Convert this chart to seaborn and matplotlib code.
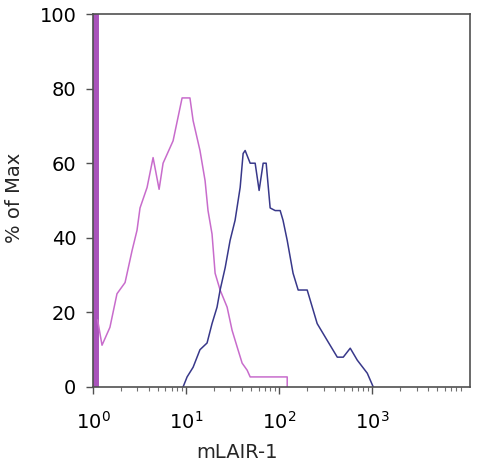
import numpy as np
import pandas as pd
import matplotlib
matplotlib.use("Agg")
import matplotlib.pyplot as plt
import seaborn as sns
from matplotlib.ticker import LogLocator, MultipleLocator

# valeurs (x en intensite, y en % du max)
spike_x = [1.06, 1.06]
spike_y = [0, 100]

iso_x = [1.12, 1.25, 1.52, 1.81, 2.21, 2.63, 2.97, 3.20, 3.81, 4.42, 5.13, 5.66,
         7.25, 9.06, 11.0, 11.9, 14.1, 16.0, 17.2, 19.0, 20.5, 23.2, 27.6, 31.2,
         35.4, 40.0, 45.3, 48.8, 122, 122]
iso_y = [18, 11.2, 16, 25, 28, 36.6, 42, 48, 53.5, 61.5, 53, 60,
         66, 77.5, 77.5, 71.4, 63.4, 55.3, 47.3, 41, 30.5, 26, 21.4, 15.2,
         10.7, 6.4, 4.5, 2.7, 2.7, 0]

lair_x = [9.28, 10.25, 11.9, 14.1, 16.8, 19.0, 21.5, 23.2, 26.3, 29.7, 33.6, 38.1,
          41.0, 43.1, 48.8, 55.2, 60.9, 67.3, 72.5, 80.0, 90.6, 102.5, 110, 122,
          141, 160, 200, 256, 328, 421, 488, 580, 690, 884, 1025]
lair_y = [0, 2.7, 5.3, 10, 11.8, 17, 21.4, 26, 32, 39.3, 44.7, 53.5,
          62.6, 63.4, 60, 60, 52.7, 60, 60, 48, 47.3, 47.3, 44.7, 39.3,
          30.5, 26, 26, 17, 12.5, 8, 8, 10.4, 7.2, 3.7, 0]

sns.set_style("ticks")
plt.rcParams["font.family"] = ["DejaVu Sans"]

fig = plt.figure(figsize=(4.8, 4.67), dpi=100)
ax = fig.add_axes([93 / 480, 1 - 387 / 467, 377 / 480, 373 / 467])

sns.lineplot(x=spike_x, y=spike_y, ax=ax, color="#a953bb", linewidth=5,
             sort=False, estimator=None)
sns.lineplot(x=iso_x, y=iso_y, ax=ax, color="#c86ccc", linewidth=1.1,
             sort=False, estimator=None)
sns.lineplot(x=lair_x, y=lair_y, ax=ax, color="#38388a", linewidth=1.1,
             sort=False, estimator=None)

ax.set_xscale("log")
ax.set_xlim(1, 10 ** 4.05)
ax.set_ylim(0, 100)
ax.set_xticks([1, 10, 100, 1000])
ax.xaxis.set_minor_locator(LogLocator(base=10, subs=np.arange(2, 10), numticks=20))
ax.set_yticks([0, 20, 40, 60, 80, 100])
ax.yaxis.set_minor_locator(MultipleLocator(5))

for s in ax.spines.values():
    s.set_visible(True)
    s.set_color("#505050")
    s.set_linewidth(1.2)

ax.tick_params(axis="both", which="major", labelsize=14, length=5, width=1,
               color="#505050", labelcolor="black")
ax.tick_params(axis="x", which="major", pad=12)
ax.tick_params(axis="y", which="major", pad=7)
ax.tick_params(axis="x", which="minor", length=3, width=0.8, color="#707070")
ax.tick_params(axis="y", which="minor", length=2, width=0.8, direction="in",
               color="#707070")

ax.set_xlabel("mLAIR-1", fontsize=14)
ax.set_ylabel("% of Max", fontsize=14)
ax.xaxis.set_label_coords(0.382, -0.150)
ax.yaxis.set_label_coords(-0.183, 0.507)

fig.savefig("out.png", dpi=100)
